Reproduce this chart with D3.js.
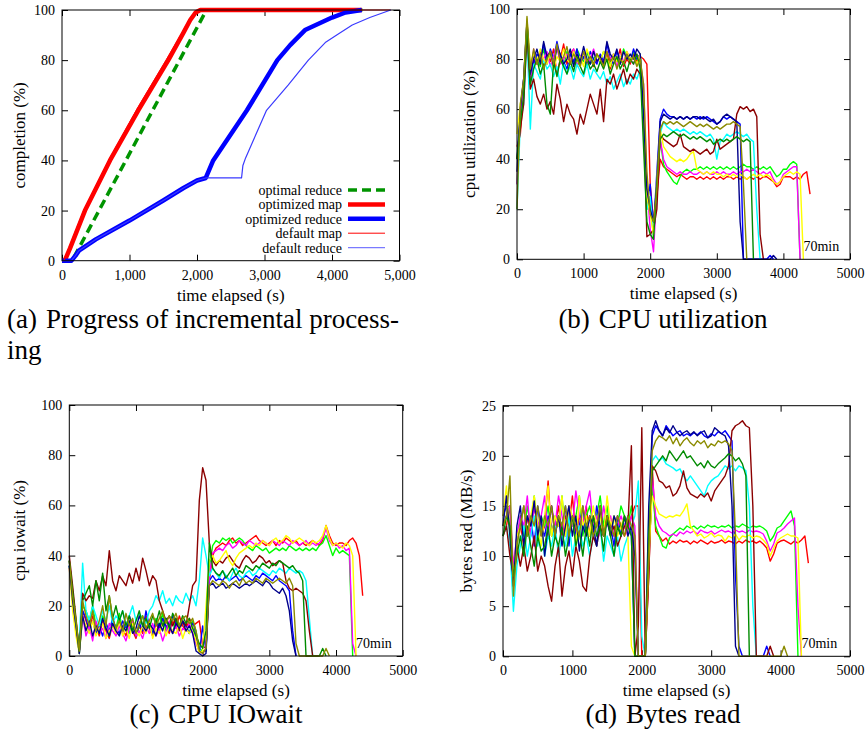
<!DOCTYPE html>
<html>
<head>
<meta charset="utf-8">
<script src="https://cdn.jsdelivr.net/npm/d3@7"></script>
<style>
  body { margin: 0; background: #fff; }
  svg text { font-family: "Liberation Serif", "Times New Roman", serif; fill: #000; }
</style>
</head>
<body>
<svg id="fig" width="865" height="729"></svg>
<script>
// ---------- data: (a) progress of incremental processing ----------
// [time (s), completion (%)]
const optimalReduce = [[0,0],[150,0],[2140,100],[4450,100]];
const optimizedMap = [[0,0],[40,0],[120,5],[340,20],[711,40],[1130,60],[1575,80],[1800,91],[1900,96],[1980,99],[2050,100],[4440,100]];
const optimizedReduce = [[0,0],[140,0],[200,2],[250,4],[500,8.5],[1000,16],[1500,24],[1800,29],[2000,32],[2130,33],[2240,40],[2740,60],[3190,80],[3380,86],[3600,92],[4000,97],[4200,99],[4440,100]];
const defaultMap = [[0,0],[30,0],[100,5],[320,20],[690,40],[1100,60],[1540,80],[1780,91],[1880,96],[1960,99],[2030,100],[4870,100]];
const defaultReduce = [[0,0],[140,0],[200,2],[250,4],[500,8.5],[1000,16],[1500,24],[1800,29],[2000,32],[2130,33],[2660,33],[2680,38],[2720,41],[3030,60],[3350,70],[3650,80],[3900,87],[4070,90],[4300,94],[4560,97],[4870,100]];
const progressNames = ["optimal reduce","optimized map","optimized reduce","default map","default reduce"];

// ---------- data: per-host traces, one sample every 50 s ----------
const step = 50;
const hostNames = ["red","green","blue","magenta","cyan","darkred","yellow","navy","darkgreen","olive"];

const cpuRed = [45,50,68,92,70, 80,78,83,76,82,79,84,74,80,86, 78,82,84,77,80,83,79,81,77,82, 80,78,83,76,81,79,84,77,80,78, 82,79,81, 80,78,30,15,25,40,
  37,36,35,34,33,34,33,32,33,33, 32,33,32,33,32,33,32,33,32,33, 33,32,33,32,33,32,33,32,33,32, 33,33,32,31,29,30,33,33,33,32, 33,32,34,35,26];
const cpuGreen = [30,58,70,94,75, 83,80,77,84,79,82,78,85,80,77, 83,80,78,84,81,79,83,78,80,82, 79,83,80,77,82,80,78,84,81,79, 83,80,82, 65,20,25,8,30,48,
  38,35,33,31,30,33,35,36,35,36, 36,37,36,37,36,37,36,37,36,37, 36,37,36,37,38,37,37,36,37,36, 37,36,37,35,33,34,36,36,38,39, 38,0];
const cpuBlue = [40,60,72,95,72, 78,82,80,86,78,84,80,87,81,79, 76,82,79,84,78,81,77,83,80,78, 82,79,86,80,78,83,80,78,82,79, 84,80,82, 60,22,30,12,35,56,
  60,58,57,57,56,57,56,57,56,57, 56,57,56,57,56,55,54,55,57,56, 57,56,55,54,0,0,0,0,0,0, 0,0,1.5,0];
const cpuMagenta = [30,58,68,92,70, 84,78,82,80,83,77,81,85,78,80, 82,79,84,77,81,83,78,80,84,79, 81,78,83,80,82,77,81,79,83,80, 78,82,79, 70,30,12,3,28,48,
  40,37,36,35,34,35,34,34,35,34, 34,35,34,35,34,34,35,34,35,34, 34,35,34,35,35,36,35,36,35,34, 35,34,35,32,30,31,34,35,36,37, 37,0];
const cpuCyan = [20,55,62,90,52, 78,75,72,80,76,78,73,77,70,79, 74,77,72,78,75,73,78,72,76,74, 72,75,70,73,68,71,74,69,72,70, 74,72,76, 55,20,25,10,30,50,
  55,53,52,51,52,51,52,51,50,51, 50,51,50,49,50,48,40,47,48,50, 49,50,51,50,49,50,48,47,20,0];
const cpuDarkred = [40,52,62,90,68, 72,65,62,66,60,63,58,70,64,55, 62,58,56,50,58,54,60,66,62,58, 68,55,72,70,74,68,72,76,70,74, 72,76,74, 60,9,10,12,20,50,
  48,47,46,45,46,50,45,44,43,44, 43,42,43,44,42,43,48,44,45,46, 47,48,58,61,60,61,59,60,57,10, 0];
const cpuYellow = [50,62,70,96,78, 82,79,84,80,78,83,76,81,79,84, 80,78,83,79,81,77,84,80,78,82, 79,83,80,77,82,79,81,78,83,80, 81,78,82, 62,25,18,10,32,52,
  45,43,41,40,39,40,39,40,42,43, 36,35,34,35,34,35,34,34,33,34, 33,34,33,34,33,32,33,34,33,34, 33,34,33,31,30,31,33,34,35,34, 35,34,0];
const cpuNavy = [35,60,72,95,74, 80,84,78,87,81,83,77,85,82,78, 80,84,77,82,79,85,80,78,83,79, 81,78,87,82,80,84,78,83,80,82, 80,84,82, 58,28,20,15,30,55,
  58,57,56,57,56,57,56,57,56,57, 57,56,57,56,55,56,54,55,57,58, 57,56,55,15,0,0,0,0,0,0, 0,0,0,1.5,0];
const cpuDarkgreen = [40,55,65,94,70, 76,80,74,78,62,58,79,73,80,77, 74,79,75,81,77,74,80,76,78,75, 79,76,80,74,78,81,76,79,75,80, 78,82,76, 45,15,10,8,30,48,
  50,49,50,51,50,49,50,49,48,49, 48,49,48,47,48,46,47,48,47,48, 47,48,49,48,47,48,47,0];
const cpuOlive = [20,62,72,97,76, 84,78,82,76,80,83,78,86,79,81, 85,78,82,80,77,83,79,81,78,82, 80,77,83,79,81,76,80,78,82,79, 81,77,80, 70,35,18,15,28,52,
  55,54,55,54,55,54,53,54,55,54, 53,54,53,54,53,52,53,52,53,54, 54,55,54,53,30,0];

const ioRed = [38,25,10,2,18, 14,10,16,12,8,14,10,7,13,9, 15,11,8,14,10,7,12,9,16,11, 8,13,10,15,12,9,14,11,16,12, 10,15,12, 13,14,4,3,30,40,
  43,44,45,44,46,47,45,46,44,45, 46,47,48,46,45,44,45,46,44,46, 45,47,46,45,46,44,45,44,45,46, 45,44,46,52,48,45,44,45,45,44, 46,47,45,40,24];
const ioGreen = [36,22,12,1,20, 18,14,20,12,10,16,13,8,15,11, 17,10,13,9,14,8,12,16,10,13, 9,15,12,17,10,13,9,15,11,14, 12,9,14, 10,3,2,2,35,44,
  46,45,47,46,47,45,46,47,46,44, 43,42,44,43,42,43,41,42,43,42, 43,42,44,43,42,43,42,43,42,43, 42,44,45,48,44,40,43,41,42,41, 40,0];
const ioBlue = [36,24,12,1,18, 15,10,14,9,12,8,13,10,15,11, 9,14,11,16,12,8,13,10,18,12, 9,14,11,15,12,10,16,13,11,14, 12,9,13, 8,1,12,2,30,32,
  30,31,30,32,30,31,32,30,31,32, 31,30,32,31,33,32,31,30,32,30, 29,28,26,10,0];
const ioMagenta = [35,22,10,2,16, 8,12,6,14,9,11,7,13,10,8, 12,9,6,11,14,8,10,7,12,9, 13,8,11,6,10,14,9,12,8,11, 10,13,9, 5,2,1,3,32,41,
  42,43,42,44,45,43,44,46,45,44, 46,45,44,45,46,45,44,46,45,44, 46,45,44,46,45,44,45,46,44,45, 44,45,47,51,46,44,45,43,44,42, 43,5,0];
const ioCyan = [38,25,12,5,37, 18,14,20,16,12,18,14,20,13,16, 14,18,12,16,20,14,17,15,13,18, 20,24,22,26,21,23,20,24,22,21, 25,22,24, 20,30,47,40,32,35,
  33,31,34,32,30,33,35,32,31,33, 34,32,33,35,34,33,32,34,33,35, 34,33,35,34,33,34,33,30,15,0];
const ioDarkred = [40,28,15,2,25, 22,24,23,30,26,32,28,42,30,26, 32,30,28,33,29,35,30,39,34,28, 32,30,22,18,14,16,12,15,10,14, 12,20,28, 30,62,75,70,45,38,
  36,38,37,39,40,38,36,35,38,40, 39,37,38,40,39,37,38,36,37,38, 37,30,27,26,27,26,25,22,10,0];
const ioYellow = [35,18,8,1,15, 12,9,14,8,11,13,7,10,12,9, 14,8,11,7,13,10,8,12,9,14, 7,11,9,13,8,12,10,9,13,7, 11,9,12, 6,1,2,20,38,40,
  37,38,40,42,38,36,39,41,42,43, 44,43,45,44,46,45,44,46,47,45, 46,48,47,45,46,47,46,45,44,46, 45,46,48,52,47,44,45,44,43,45, 44,40,0];
const ioNavy = [36,22,12,1,16, 10,14,8,12,9,15,11,8,13,10, 8,12,10,14,9,11,16,12,10,13, 11,8,13,10,15,12,9,13,11,14, 10,12,9, 2,1,0,1,28,29,
  27,28,29,27,28,29,28,27,28,29, 28,29,30,29,28,30,29,27,26,25, 27,24,18,6,0];
const ioDarkgreen = [38,26,14,2,22, 25,28,20,30,22,33,18,24,15,20, 14,18,12,16,10,14,18,12,15,11, 16,13,18,12,15,11,17,14,12,16, 13,15,11, 8,5,3,10,45,35,
  33,32,34,31,33,35,32,34,33,36, 35,34,36,35,37,36,35,37,36,38, 37,36,35,36,34,33,30,0,0,0, 0,0,3,0];
const ioOlive = [38,24,14,2,22, 16,12,18,10,14,20,12,24,15,11, 14,10,17,12,15,9,13,16,11,14, 17,12,15,18,13,16,14,17,12,15, 16,13,15, 10,2,1,3,28,30,
  29,28,30,29,27,29,30,28,31,29, 30,29,31,30,29,31,30,29,30,31, 30,29,31,28,5,0,0,0,0,0, 0,0,0,3,0];

const brRed = [12,13,15,8,12, 13,11,14,12,15,13,12,13,17.5,12, 13,15,12,14,13,16,12,14,13,15, 12,14,13,15,12,14,13,12,14,13, 12,13,14, 15,15,0,0,8,19,
  12.5,12,11.5,11.8,11.2,11.5,11.3,11.6,11.4,11.5, 11.2,11.5,11.3,11.6,11.4,11.2,11.5,11.3,11.4,11.6, 11.3,11.5,11.4,11.2,11.5,11.3,11.6,11.4,11.5,11.3, 11.5,11.2,10.8,9.5,10.2,11.3,11.5,11.6,11.4,11.2, 11.5,11.3,11.6,12,9.3];
const brGreen = [13,14,15,7,11, 14,12,15,13,16,12,14,13,15,12, 14,13,16,12,15,13,14,16,12,14, 15,13,14,16,13,15,12,14,13,15, 14,13,15, 12,0,0,0,10,17,
  13,12,11,10.8,11.8,12.2,12.5,12.8,12.6,13, 12.8,13,12.7,13,12.8,13.1,12.9,13,12.8,13, 12.9,13.1,12.8,13,12.9,13.2,13,12.8,13,12.9, 13,12.8,12.5,11.5,12,12.8,13,13.5,14,14.5, 13,0];
const brBlue = [14,15,13,7,12, 13,15,12,14,11,15,13,12,14,13, 12,14,13,15,11,14,12,13,15,12, 14,12,15,13,12,14,13,11,14,12, 13,14,12, 0,0,0,0,12,22,
  23,22.5,22,23,22.5,22,22.3,22.5,22,22.2, 22,22.3,22.1,22.4,22,21.8,22.2,22,22.4,22.2, 22.5,22,21.5,8,1,0,0,0,0,0, 0,0,1,0];
const brMagenta = [13,14,15,9,12, 14,13,16,12,15,13,14,16,12,15, 13,16,14,12,15,13,16.5,14,13,15, 16.5,13,14,12,15,13,14,12,13,14, 13,12,14, 13,0,0,0,10,18,
  14,13,12.5,12.3,12,12.2,12,12.4,12.2,12.5, 12.3,12.5,12.2,12.6,12.4,12.3,12.5,12.2,12.4,12.6, 12.4,12.5,12.3,12.6,12.4,12.5,12.3,12.6,12.4,12.5, 12.4,12.2,11.5,10.5,11.2,12.3,12.5,12.8,13.2,13.5, 13.8,5,0];
const brCyan = [12,13,11,4.5,9, 11,13,10,12,14,11,13,10,12,11, 13,10,12,11,14,10,12,13,11,12, 10,12,11,13,9.5,12,11,10,12,9.5, 11,12,13, 14,17.5,2,0,14,19.5,
  20,19.5,19.8,19.2,19,18.8,18.5,18.7,18,17.5, 18,17.5,17,16.5,16,17,17.5,17.8,18,18.5, 19,18.7,19,18.5,19,18.8,18.5,15,5,0];
const brDarkred = [12,13,10,8,11, 9,11,8.5,10,12,8.5,10,9,7,5.5, 9,11,6,9,10.5,8,11,9.5,7,6.5, 10,12,11,13,12,14,12,13,11,12, 13,13,21, 0,3,22.8,0,8,19,
  18.5,17.5,17.3,16.8,17,16,16.3,17,18.5,16.8, 16.2,16,15.8,16.2,15.9,16.3,15.5,16.5,17,17.5, 18,19,22.5,23,23.2,23.5,23,22.8,15,0, 0,0,0,1,0];
const brYellow = [14,17,12,8,12, 13,15,12,14,16,13,11,14,17,12, 14,13,16,12,15,14,11,16,13,14, 12,15,13,14,12,16,13,14,12,13, 14,12,1, 0,0,0,0,10,16,
  15,14.2,14,13.8,14,13.9,14.1,14,14.5,15.2, 13,12.5,12,12.2,11.8,12,12.3,11.9,12.1,12, 11.5,12,11.8,12.2,11.6,12,11.9,12.1,11.8,12, 11.9,11.6,11.2,10,10.8,11.5,11.8,12,12.2,12, 12,11.8,0];
const brNavy = [13,16,12,7,13, 15,11,14,13,15.5,12,14,10,13,15, 12,14,11,13,15,12,14,10.5,13,12, 14,13,11,15,12,13.5,12,14,13,12, 14,12,13, 10,0,0,0,15,22.5,
  23.5,22.5,22,22.8,22.3,23,22.4,22,22.3,22.5, 22.1,22.4,22,22.3,22.5,21.8,22,22.8,22.5,22.2, 22,21,15,1,0];
const brDarkgreen = [12,14,13,8,10, 12,10,13,11,9,12,10.5,11,13,10, 12,11,13,10,12,14,11,12.5,10,13, 11,14,12,13,10.5,14,12,10,13,12, 14,13,12, 0,0,0,0,12,18.5,
  19,19.5,20,19.5,20.5,20,19.5,20,20.5,19.8, 20,19.5,19,19.3,18.8,19.5,19,18.8,19.2,19.5, 19.8,20.2,20,19.5,19.8,19.2,18,0];
const brOlive = [13,14,18,6,11, 13,15,12,14,13,15,12,14,13,15, 12,14,13,15,12,14,13,12,15,13, 14,12,13,15,12,14,13,12,14,13, 12,14,13, 12,0,0,0,10,20.5,
  21.5,22,21.8,21.5,22,21.2,21.8,21,21.5,21.8, 21.3,21,21.5,21.2,21.5,20.8,21.2,21,21.5,21.3, 21.5,21.2,20.5,12,0,0,0,0,0,0, 0,0,0,0,0,0,0,1,0];

const cpuSeries = [cpuRed, cpuGreen, cpuBlue, cpuMagenta, cpuCyan, cpuDarkred, cpuYellow, cpuNavy, cpuDarkgreen, cpuOlive];
const ioSeries = [ioRed, ioGreen, ioBlue, ioMagenta, ioCyan, ioDarkred, ioYellow, ioNavy, ioDarkgreen, ioOlive];
const brSeries = [brRed, brGreen, brBlue, brMagenta, brCyan, brDarkred, brYellow, brNavy, brDarkgreen, brOlive];

// ---------- styles ----------
const serif = '"Liberation Serif", "Times New Roman", serif';
const hostColor = d3.scaleOrdinal().domain(hostNames)
    .range(["#ff0000","#00ff00","#0000ff","#ff00ff","#00ffff","#8b0000","#ffff00","#00008b","#008b00","#8b8b00"]);
const progStyles = [
    {color: "#009400", width: 3.5, dash: "9,5"},
    {color: "#ff0000", width: 4.5},
    {color: "#0000ff", width: 4.5},
    {color: "#ff0000", width: 1},
    {color: "#3a3aff", width: 1.2}
];

const svg = d3.select("#fig");

function makePanel(box, yMax, yStep, xFmt, yTitle, yTitleX) {
    const x = d3.scaleLinear().domain([0, 5000]).range([box.left, box.right]);
    const y = d3.scaleLinear().domain([0, yMax]).range([box.bottom, box.top]);
    const g = svg.append("g");
    const xt = d3.range(0, 5001, 1000);
    const yt = d3.range(0, yMax + 0.001, yStep);

    const axes = g.append("g").attr("class", "axes");
    axes.append("g").attr("transform", `translate(0,${box.bottom})`)
        .call(d3.axisBottom(x).tickValues(xt).tickFormat(xFmt).tickSize(-6).tickPadding(9));
    axes.append("g").attr("transform", `translate(0,${box.top})`)
        .call(d3.axisTop(x).tickValues(xt).tickFormat("").tickSize(-6));
    axes.append("g").attr("transform", `translate(${box.left},0)`)
        .call(d3.axisLeft(y).tickValues(yt).tickSize(-6).tickPadding(7));
    axes.append("g").attr("transform", `translate(${box.right},0)`)
        .call(d3.axisRight(y).tickValues(yt).tickFormat("").tickSize(-6));
    axes.selectAll("g").attr("font-size", 14).attr("font-family", serif);
    axes.selectAll(".domain").remove();
    axes.selectAll(".tick line").attr("stroke", "#000");

    g.append("text")
        .attr("x", (box.left + box.right) / 2).attr("y", box.bottom + 40)
        .attr("text-anchor", "middle").attr("font-size", 17)
        .text("time elapsed (s)");
    g.append("text")
        .attr("transform", `translate(${yTitleX},${(box.top + box.bottom) / 2}) rotate(-90)`)
        .attr("text-anchor", "middle").attr("font-size", 17)
        .text(yTitle);

    const lines = g.append("g");
    g.append("rect")
        .attr("x", box.left).attr("y", box.top)
        .attr("width", box.right - box.left).attr("height", box.bottom - box.top)
        .attr("fill", "none").attr("stroke", "#000").attr("stroke-width", 1);
    return {g, lines, x, y};
}

function hostPanel(p, series) {
    const line = d3.line().x((d, i) => p.x(i * step)).y(d => p.y(d));
    p.lines.selectAll("path").data(series).join("path")
        .attr("d", line)
        .attr("fill", "none")
        .attr("stroke", (d, i) => hostColor(hostNames[i]))
        .attr("stroke-width", 1.4)
        .attr("stroke-linejoin", "round");
    p.g.append("text")
        .attr("x", p.x(4300)).attr("y", p.y(0) - 8)
        .attr("font-size", 14)
        .text("70min");
}

// ---------- (a) ----------
const pa = makePanel({left: 62, right: 399.5, top: 10, bottom: 260.7}, 100, 20, d3.format(","), "completion (%)", 25);
const progSeries = [optimalReduce, optimizedMap, optimizedReduce, defaultMap, defaultReduce];
const progLine = d3.line().x(d => pa.x(d[0])).y(d => pa.y(d[1]));
pa.lines.selectAll("path").data(progSeries).join("path")
    .attr("d", progLine)
    .attr("fill", "none")
    .attr("stroke", (d, i) => progStyles[i].color)
    .attr("stroke-width", (d, i) => progStyles[i].width)
    .attr("stroke-dasharray", (d, i) => progStyles[i].dash || null)
    .attr("stroke-linejoin", "round");

const legend = pa.g.append("g");
progressNames.forEach((name, i) => {
    const yy = 190 + i * 14.4;
    legend.append("text")
        .attr("x", 342).attr("y", yy + 5)
        .attr("text-anchor", "end").attr("font-size", 14)
        .text(name);
    legend.append("line")
        .attr("x1", 348).attr("x2", 385).attr("y1", yy).attr("y2", yy)
        .attr("stroke", i === 4 ? "#7a7aff" : progStyles[i].color)
        .attr("stroke-width", progStyles[i].width)
        .attr("stroke-dasharray", progStyles[i].dash || null);
});

// ---------- (b), (c), (d) ----------
const pb = makePanel({left: 517, right: 850, top: 9, bottom: 259.3}, 100, 20, d3.format("d"), "cpu utilization (%)", 475);
hostPanel(pb, cpuSeries);
const pc = makePanel({left: 69.3, right: 402.7, top: 405, bottom: 656}, 100, 20, d3.format("d"), "cpu iowait (%)", 25);
hostPanel(pc, ioSeries);
const pd = makePanel({left: 503, right: 850, top: 405.7, bottom: 656.3}, 25, 5, d3.format("d"), "bytes read (MB/s)", 472);
hostPanel(pd, brSeries);

// ---------- captions ----------
function caption(x, y, anchor, label, body) {
    const t = svg.append("text")
        .attr("x", x).attr("y", y)
        .attr("text-anchor", anchor).attr("font-size", 27);
    t.append("tspan").text(label);
    t.append("tspan").attr("dx", 9).text(body);
    return t;
}
caption(7, 328, "start", "(a)", "Progress of incremental process-");
svg.append("text").attr("x", 7).attr("y", 359).attr("font-size", 27).text("ing");
caption(663, 328, "middle", "(b)", "CPU utilization");
caption(216, 723, "middle", "(c)", "CPU IOwait");
caption(663, 723, "middle", "(d)", "Bytes read");
</script>
</body>
</html>
